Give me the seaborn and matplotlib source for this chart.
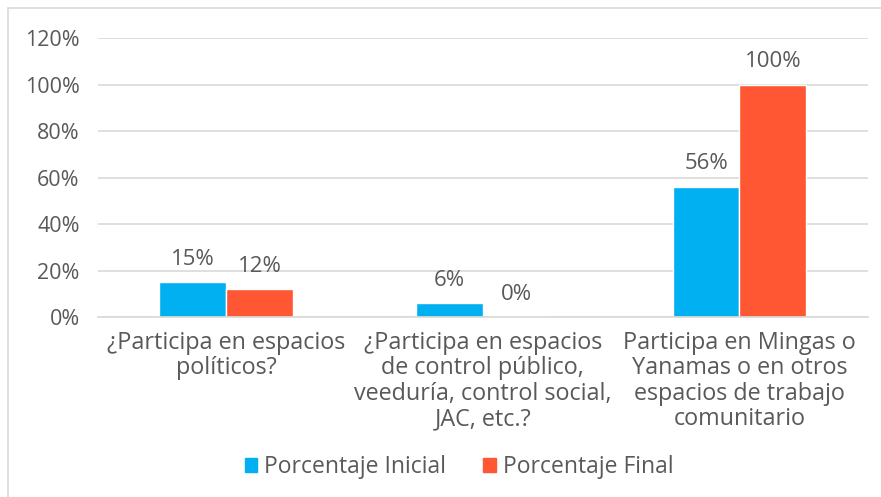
import pandas as pd
import matplotlib.pyplot as plt
import matplotlib.patches as mpatches
import seaborn as sns

# data
categorias = ["¿Participa en espacios\npolíticos?",
              "¿Participa en espacios\nde control público,\nveeduría, control social,\nJAC, etc.?",
              "Participa en Mingas o\nYanamas o en otros\nespacios de trabajo\ncomunitario"]
series = ["Porcentaje Inicial", "Porcentaje Final"]
inicial = [0.15, 0.06, 0.56]
final = [0.12, 0.00, 1.00]
colores = ["#00B0F0", "#FF5733"]

df = pd.DataFrame({
    "categoria": categorias * 2,
    "serie": [series[0]] * 3 + [series[1]] * 3,
    "valor": inicial + final,
})

sns.set_style("white")
plt.rcParams["font.family"] = ["Open Sans", "DejaVu Sans"]
gris = "#595959"

fig = plt.figure(figsize=(8.81, 4.97), dpi=100)
ax = fig.add_axes([0.111, 0.362, 0.874, 0.5615])

sns.barplot(data=df, x="categoria", y="valor", hue="serie", palette=colores,
            width=0.52, gap=0, saturation=1, ax=ax, legend=False)

ax.set_ylim(0, 1.2)
ax.set_yticks([0, 0.2, 0.4, 0.6, 0.8, 1.0, 1.2])
ax.set_yticklabels(["{:.0f}%".format(t * 100) for t in ax.get_yticks()])
ax.yaxis.grid(True, color="#D9D9D9", linewidth=1.2)
ax.set_axisbelow(True)
for s in ["top", "right", "left"]:
    ax.spines[s].set_visible(False)
ax.spines["bottom"].set_color("#D9D9D9")
ax.spines["bottom"].set_linewidth(1.2)
ax.tick_params(axis="y", length=0, labelsize=15.5, colors=gris, pad=13)
ax.tick_params(axis="x", length=0, labelsize=16.8, colors=gris, pad=10)
for lbl in ax.get_xticklabels():
    lbl.set_linespacing(1.08)
ax.set_xlabel("")
ax.set_ylabel("")

# data labels
for cont in ax.containers:
    ax.bar_label(cont, labels=["{:.0f}%".format(v * 100) for v in cont.datavalues],
                 padding=9, fontsize=16, color=gris)

handles = [mpatches.Patch(color=c, label=s) for c, s in zip(colores, series)]
fig.legend(handles=handles, loc="center", bbox_to_anchor=(0.521, 0.06), ncol=2,
           frameon=False, fontsize=16.5, labelcolor=gris, handlelength=0.55,
           handleheight=0.55, handletextpad=0.3, columnspacing=1.6)

# light frame on left/top like the source crop
fig.add_artist(plt.Line2D([8 / 881, 8 / 881], [0, 1 - 8 / 497], color="#D9D9D9", lw=1.2))
fig.add_artist(plt.Line2D([8 / 881, 1], [1 - 8 / 497, 1 - 8 / 497], color="#D9D9D9", lw=1.2))

fig.savefig("out.png", dpi=100)
